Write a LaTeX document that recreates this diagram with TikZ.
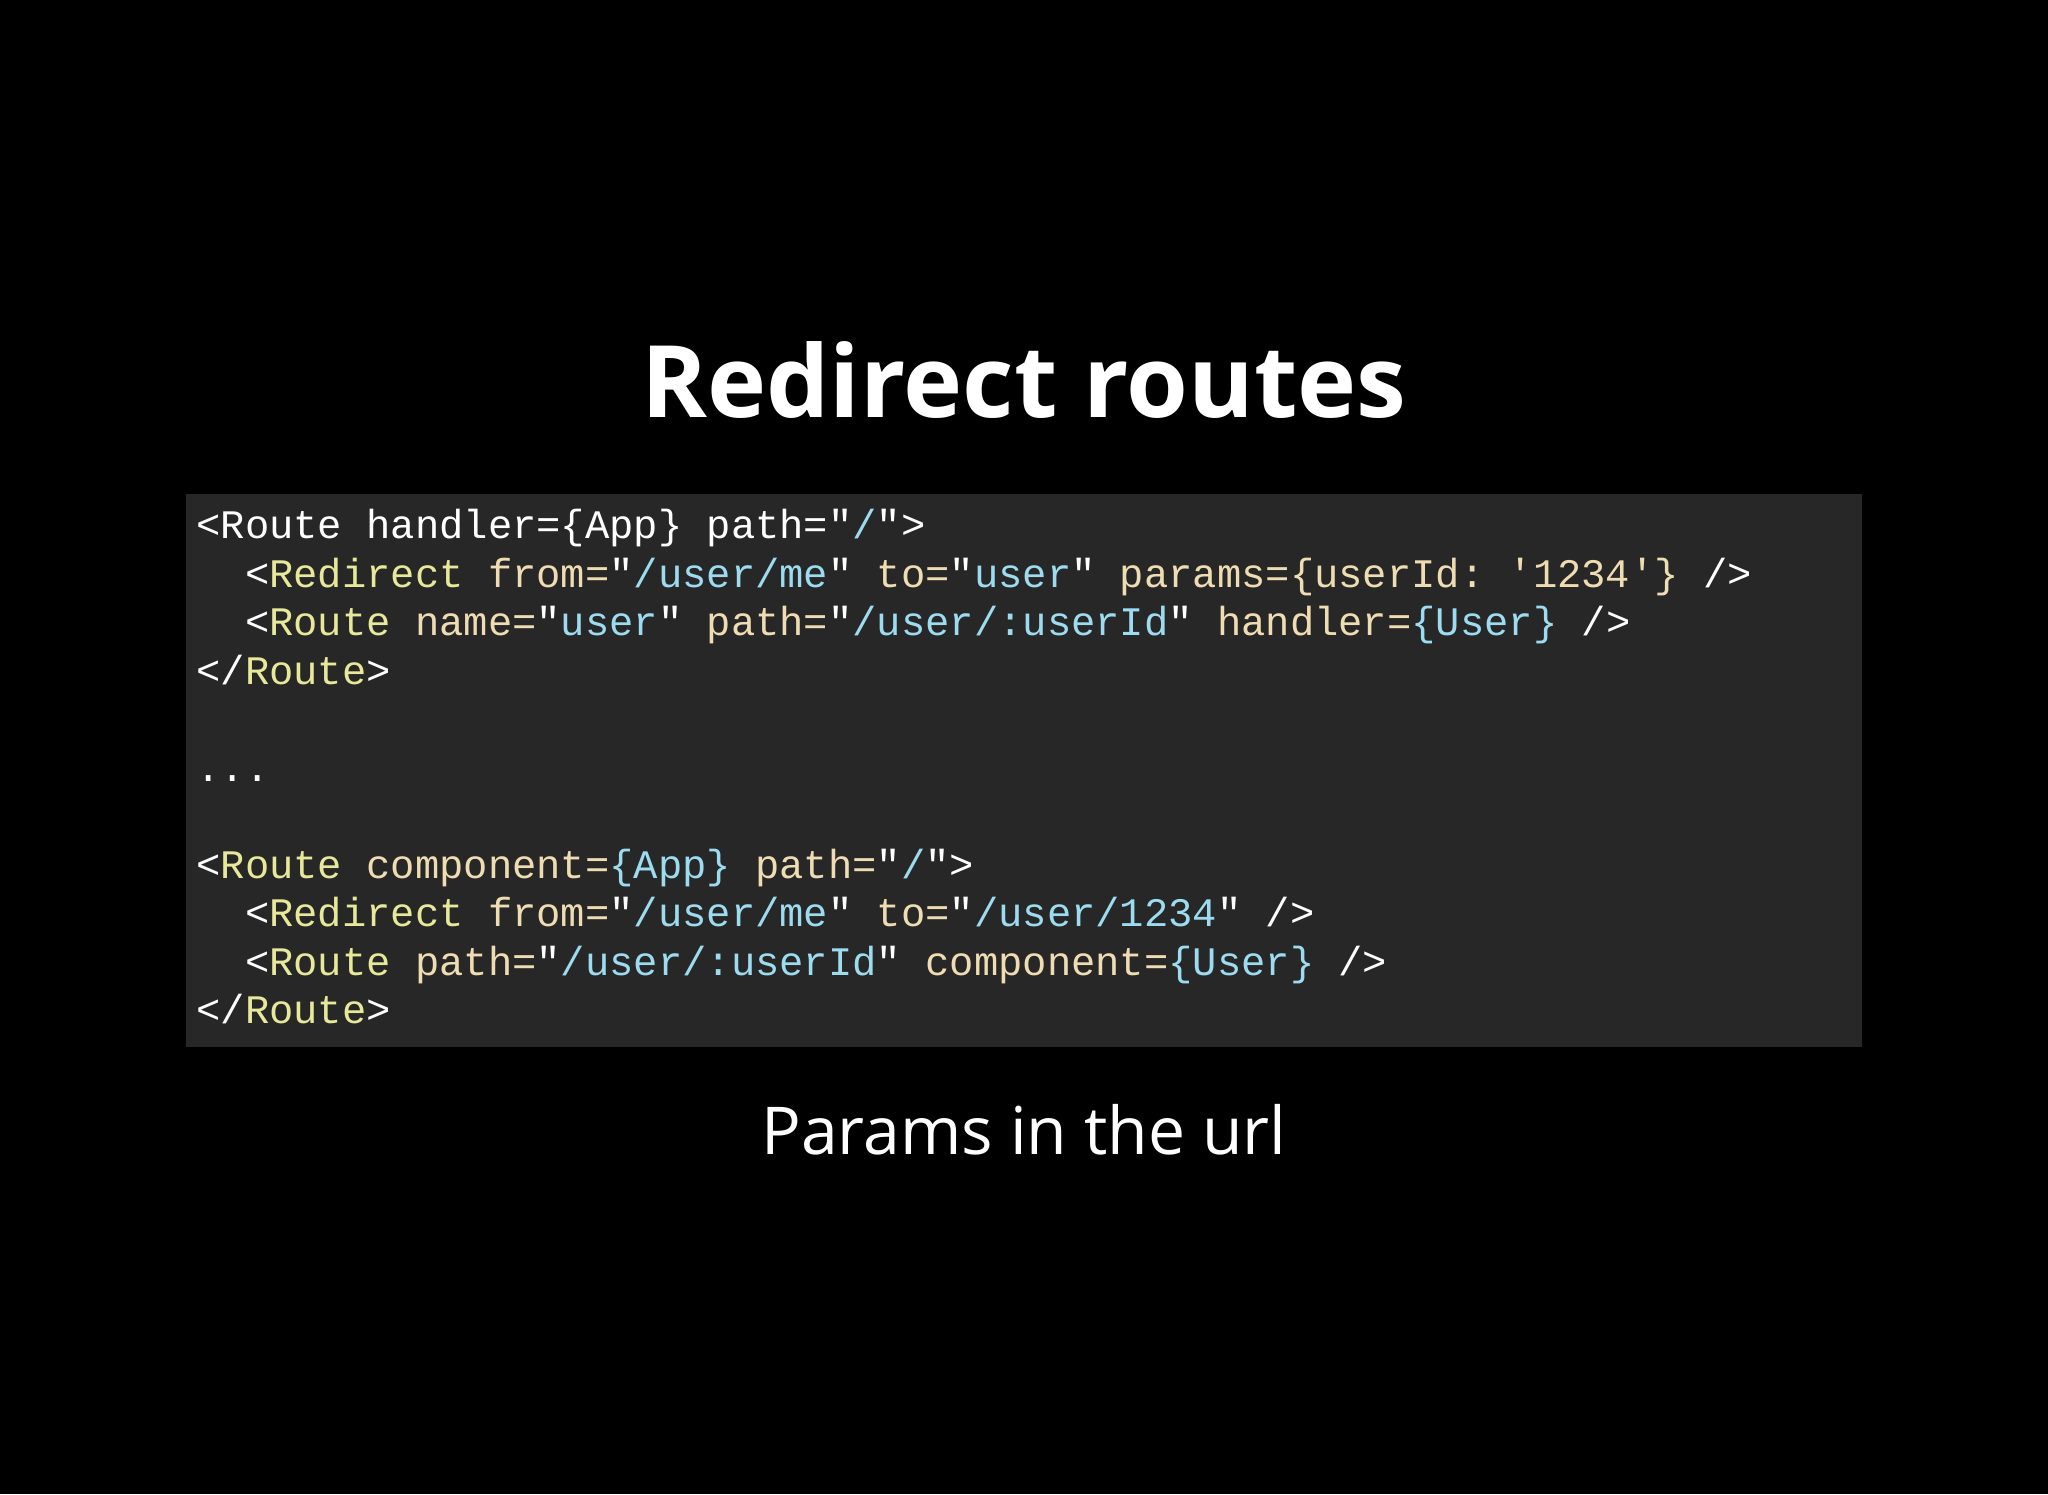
\documentclass[tikz,border=0pt]{standalone}
\usepackage{fontspec}
\setmainfont{Open Sans}
\setmonofont{Liberation Mono}
\definecolor{cbg}{HTML}{272727}
\definecolor{cy}{HTML}{E8E89A}
\definecolor{cb}{HTML}{F0DCB2}
\definecolor{cc}{HTML}{9DDCF0}
\newcommand\W[1]{\textcolor{white}{#1}}
\newcommand\Y[1]{\textcolor{cy}{#1}}
\newcommand\B[1]{\textcolor{cb}{#1}}
\newcommand\C[1]{\textcolor{cc}{#1}}
\begin{document}
\begin{tikzpicture}[x=0.5pt,y=-0.5pt,
  code/.style={anchor=base west,inner sep=0,font=\ttfamily\fontsize{20.25pt}{24pt}\selectfont,text=white}]
\fill[black] (0,0) rectangle (2048,1494);
\useasboundingbox (0,0) rectangle (2048,1494);
\fill[cbg] (186,494) rectangle (1862,1047);
\node[text=white,font=\bfseries\fontsize{50pt}{60pt}\selectfont] (title) at (1024,380) {Redirect routes};
\node[text=white,font=\fontsize{33pt}{40pt}\selectfont] (sub) at (1024,1130) {Params in the url};
\def\xa{196}\def\xb{244.6}
\node[code] (l1) at (\xa,538) {\W{<Route handler=\{App\} path="}\C{/}\W{">}};
\node[code] (l2) at (\xb,587) {\W{<}\Y{Redirect}\B{\ from=}\W{"}\C{/user/me}\W{"}\B{\ to=}\W{"}\C{user}\W{"}\B{\ params=\{userId: '1234'\}}\W{\ />}};
\node[code] (l3) at (\xb,635) {\W{<}\Y{Route}\B{\ name=}\W{"}\C{user}\W{"}\B{\ path=}\W{"}\C{/user/:userId}\W{"}\B{\ handler=}\C{\{User\}}\W{\ />}};
\node[code] (l4) at (\xa,684) {\W{</}\Y{Route}\W{>}};
\node[code] (l6) at (\xa,781) {\W{...}};
\node[code] (l8) at (\xa,878) {\W{<}\Y{Route}\B{\ component=}\C{\{App\}}\B{\ path=}\W{"}\C{/}\W{">}};
\node[code] (l9) at (\xb,926) {\W{<}\Y{Redirect}\B{\ from=}\W{"}\C{/user/me}\W{"}\B{\ to=}\W{"}\C{/user/1234}\W{"}\W{\ />}};
\node[code] (l10) at (\xb,975) {\W{<}\Y{Route}\B{\ path=}\W{"}\C{/user/:userId}\W{"}\B{\ component=}\C{\{User\}}\W{\ />}};
\node[code] (l11) at (\xa,1023) {\W{</}\Y{Route}\W{>}};
\end{tikzpicture}
\end{document}
